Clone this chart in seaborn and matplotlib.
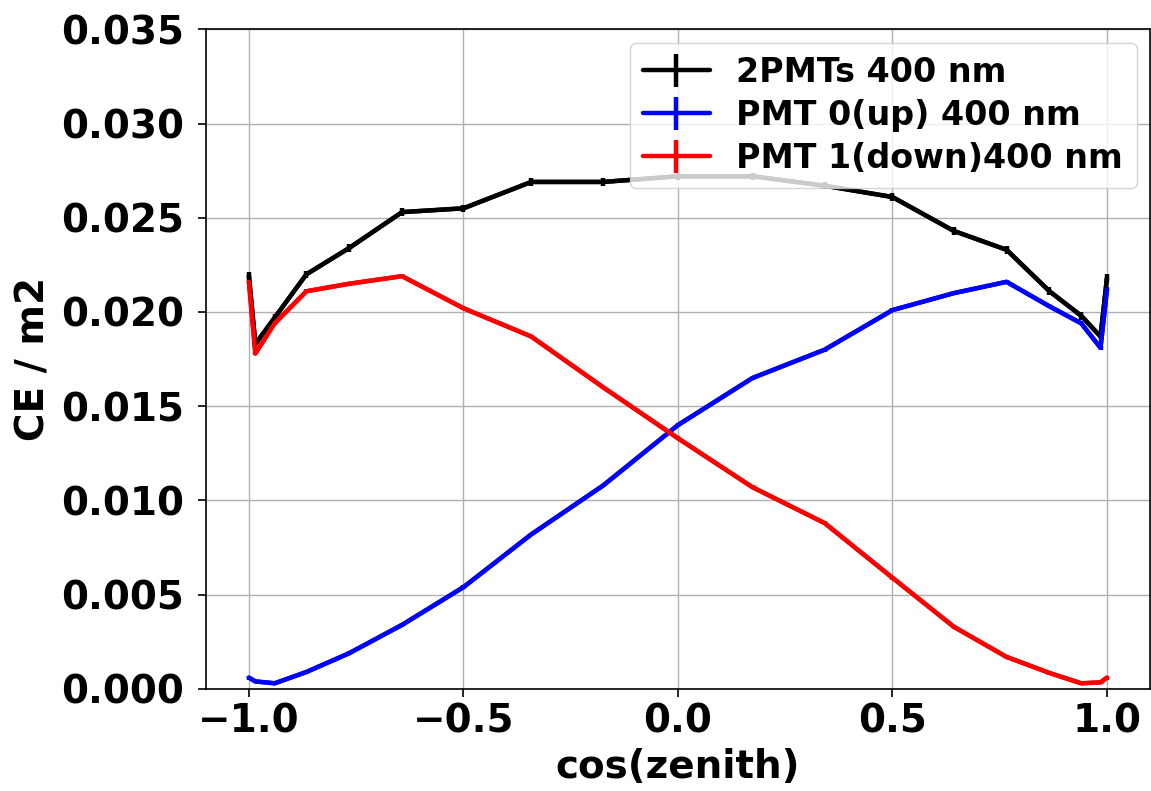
import numpy as np
import matplotlib
matplotlib.use("Agg")
import matplotlib.pyplot as plt
import seaborn as sns

# cos(zenith) sample points
cos_zenith = [-1.0, -0.985, -0.94, -0.866, -0.766, -0.643, -0.5, -0.342, -0.174, 0.0,
              0.174, 0.342, 0.5, 0.643, 0.766, 0.866, 0.94, 0.985, 1.0]

ce_both = [0.0219, 0.0183, 0.0197, 0.0220, 0.0234, 0.0253, 0.0255, 0.0269, 0.0269, 0.0272,
           0.0272, 0.0267, 0.0261, 0.0243, 0.0233, 0.0211, 0.0198, 0.0187, 0.0218]
ce_up = [0.0006, 0.0004, 0.0003, 0.0009, 0.0019, 0.0034, 0.0054, 0.0082, 0.0108, 0.0140,
         0.0165, 0.0180, 0.0201, 0.0210, 0.0216, 0.0203, 0.0194, 0.0181, 0.0212]
ce_down = [0.0216, 0.0178, 0.0194, 0.0211, 0.0215, 0.0219, 0.0202, 0.0187, 0.0160, 0.0133,
           0.0107, 0.0088, 0.0059, 0.0033, 0.0017, 0.00085, 0.0003, 0.00035, 0.0006]

# small statistical errors
err_both = [0.0002] * len(cos_zenith)
err_up = [0.0001] * len(cos_zenith)
err_down = [0.0001] * len(cos_zenith)

labels = ['2PMTs 400 nm', 'PMT 0(up) 400 nm', 'PMT 1(down)400 nm']
colors = ['black', 'blue', 'red']

sns.set_style("ticks")
plt.rcParams['font.family'] = ['DejaVu Sans']
plt.rcParams['font.weight'] = 'bold'
plt.rcParams['axes.labelweight'] = 'bold'
plt.rcParams['text.color'] = 'black'
plt.rcParams['axes.labelcolor'] = 'black'
plt.rcParams['xtick.color'] = 'black'
plt.rcParams['ytick.color'] = 'black'

fig, ax = plt.subplots(figsize=(11.51, 7.91), dpi=100)
fig.subplots_adjust(left=0.179, right=0.999, top=0.963, bottom=0.129)

for y, e, lab, c in zip([ce_both, ce_up, ce_down], [err_both, err_up, err_down], labels, colors):
    sns.lineplot(x=cos_zenith, y=y, color=c, linewidth=3.2, ax=ax, legend=False, sort=False)
    ax.errorbar(cos_zenith, y, yerr=e, color=c, linewidth=3.2, elinewidth=3.2,
                fmt='-', label=lab)

ax.set_xlim(-1.1, 1.1)
ax.set_ylim(0, 0.035)
ax.set_yticks(np.arange(0, 0.0351, 0.005))
ax.set_xticks([-1.0, -0.5, 0.0, 0.5, 1.0])
ax.grid(True, color='#b0b0b0', linewidth=1.0)
ax.set_xlabel('cos(zenith)', fontsize=28, fontweight='bold', labelpad=6)
ax.set_ylabel('CE / m2', fontsize=28, fontweight='bold', labelpad=6)
ax.tick_params(labelsize=28, width=1.2, length=6, colors='black')
ax.tick_params(axis='y', pad=10)
for lbl in ax.get_xticklabels() + ax.get_yticklabels():
    lbl.set_fontweight('bold')
for s in ax.spines.values():
    s.set_linewidth(1.2)
    s.set_color('black')

ax.legend(loc='upper right', prop={'weight': 'bold', 'size': 24},
          handlelength=2.0, borderaxespad=0.4, framealpha=0.8, labelspacing=0.3)

fig.savefig('out.png', dpi=100)
